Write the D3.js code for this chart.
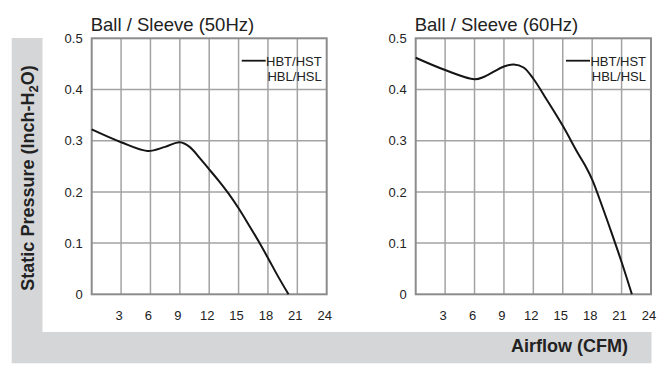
<!DOCTYPE html>
<html>
<head>
<meta charset="utf-8">
<script src="https://cdn.jsdelivr.net/npm/d3@7"></script>
<style>
  html, body { margin: 0; padding: 0; background: #ffffff; }
  svg { display: block; }
  text { font-family: "Liberation Sans", Arial, Helvetica, sans-serif; fill: #222; }
</style>
</head>
<body>
<svg id="chart" width="669" height="376"></svg>
<script>
// ---- data ----
const airflowTicks = [3, 6, 9, 12, 15, 18, 21, 24];
const pressureTicks = [0, 0.1, 0.2, 0.3, 0.4, 0.5];
const panelTitles = ["Ball / Sleeve (50Hz)", "Ball / Sleeve (60Hz)"];
const legendLabels = ["HBT/HST", "HBL/HSL"];
const yAxisTitle = "Static Pressure (Inch-H";
const xAxisTitle = "Airflow (CFM)";

const flow50 = [0, 3, 5.7, 7.5, 9, 10, 11, 12, 13, 14, 15, 16, 17, 18, 19, 20.1];
const pressure50 = [0.322, 0.297, 0.280, 0.288, 0.297, 0.288, 0.267, 0.244, 0.221, 0.196, 0.168, 0.137, 0.105, 0.071, 0.036, 0];

const flow60 = [0, 3, 6, 7, 9, 10, 11, 12, 13.4, 15, 16.5, 17.3, 18, 19, 20, 21, 22.05];
const pressure60 = [0.462, 0.438, 0.420, 0.425, 0.445, 0.449, 0.443, 0.421, 0.379, 0.329, 0.277, 0.251, 0.224, 0.173, 0.119, 0.063, 0];

// ---- layout ----
const svg = d3.select("#chart");

// gray L-shaped frame
svg.append("path")
  .attr("d", "M11.7,38 H42.5 V332 H651.5 V363.3 H11.7 Z")
  .attr("fill", "#d5d6d8");

const panels = [
  { x0: 91.7, x1: 326.7, flow: flow50, pressure: pressure50, title: panelTitles[0] },
  { x0: 415.7, x1: 651, flow: flow60, pressure: pressure60, title: panelTitles[1] }
];
const yTop = 38.3, yBot = 294.3;

panels.forEach(p => {
  const x = d3.scaleLinear().domain([0, 24]).range([p.x0, p.x1]);
  const y = d3.scaleLinear().domain([0, 0.5]).range([yBot, yTop]);
  const g = svg.append("g");

  g.append("rect").attr("x", p.x0).attr("y", yTop)
    .attr("width", p.x1 - p.x0).attr("height", yBot - yTop).attr("fill", "#fff");

  g.selectAll("line.vg").data(airflowTicks.slice(0, -1)).join("line")
    .attr("x1", d => x(d)).attr("x2", d => x(d))
    .attr("y1", yTop).attr("y2", yBot)
    .attr("stroke", "#a3a3a3").attr("stroke-width", 1.5);
  g.selectAll("line.hg").data(pressureTicks.slice(1, -1)).join("line")
    .attr("x1", p.x0).attr("x2", p.x1)
    .attr("y1", d => y(d)).attr("y2", d => y(d))
    .attr("stroke", "#a3a3a3").attr("stroke-width", 1.5);
  g.append("rect").attr("x", p.x0).attr("y", yTop)
    .attr("width", p.x1 - p.x0).attr("height", yBot - yTop)
    .attr("fill", "none").attr("stroke", "#8c8c8c").attr("stroke-width", 2);

  const xAxis = d3.axisBottom(x).tickValues(airflowTicks).tickSize(0).tickPadding(0);
  const xa = g.append("g").attr("transform", `translate(0,${yBot})`).call(xAxis);
  xa.select(".domain").remove();
  xa.selectAll("text").attr("dy", null).attr("y", 26).attr("dx", -2.5)
    .style("font-size", "13px").style("font-family", '"Liberation Sans", Arial, sans-serif').attr("fill", "#222");

  const yAxis = d3.axisLeft(y).tickValues(pressureTicks).tickSize(0).tickPadding(9)
    .tickFormat(d => d === 0 ? "0" : d3.format(".1f")(d));
  const ya = g.append("g").attr("transform", `translate(${p.x0},0)`).call(yAxis);
  ya.select(".domain").remove();
  ya.selectAll("text").style("font-size", "13px")
    .style("font-family", '"Liberation Sans", Arial, sans-serif').attr("fill", "#222");

  const line = d3.line()
    .x(d => x(d[0])).y(d => y(d[1]))
    .curve(d3.curveCatmullRom.alpha(0.5));
  g.append("path")
    .datum(p.flow.map((f, i) => [f, p.pressure[i]]))
    .attr("d", line)
    .attr("fill", "none").attr("stroke", "#151515").attr("stroke-width", 2);

  g.append("text").attr("x", p.x0 - 1).attr("y", 31)
    .style("font-size", "18.5px").text(p.title);

  const lx = p.x1 - 85;
  g.append("line").attr("x1", lx).attr("x2", lx + 24)
    .attr("y1", 60.7).attr("y2", 60.7)
    .attr("stroke", "#151515").attr("stroke-width", 1.8);
  g.append("text").attr("x", p.x1 - 5).attr("y", 65.5).attr("text-anchor", "end")
    .style("font-size", "13px").text(legendLabels[0]);
  g.append("text").attr("x", p.x1 - 5).attr("y", 81).attr("text-anchor", "end")
    .style("font-size", "13px").text(legendLabels[1]);
});

const yt = svg.append("text")
  .attr("transform", "translate(34,178) rotate(-90)")
  .attr("text-anchor", "middle")
  .style("font-size", "18px").style("font-weight", "bold");
yt.append("tspan").text(yAxisTitle);
yt.append("tspan").text("2").attr("dy", 4).style("font-size", "13px");
yt.append("tspan").text("O)").attr("dy", -4);

svg.append("text").attr("x", 628).attr("y", 352).attr("text-anchor", "end")
  .style("font-size", "18px").style("font-weight", "bold").text(xAxisTitle);
</script>
</body>
</html>
